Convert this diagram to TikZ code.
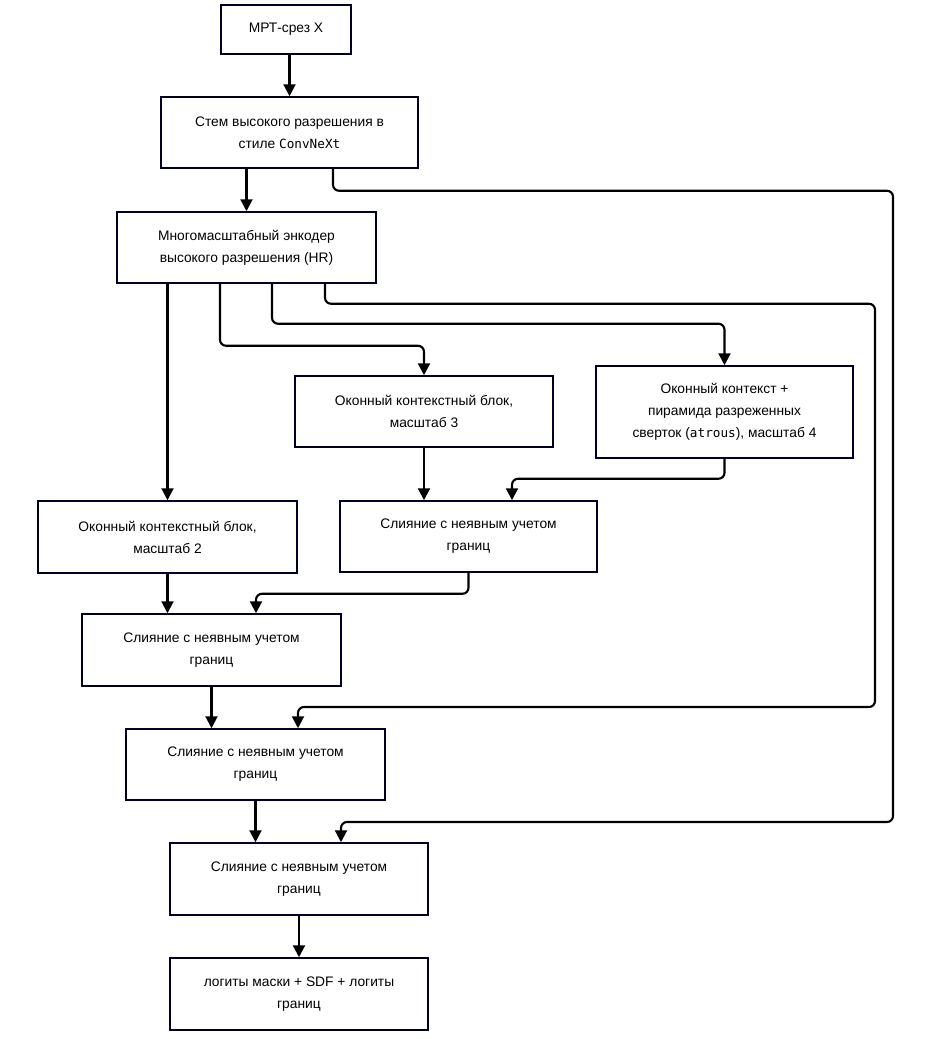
\documentclass[tikz,border=0pt]{standalone}
\usepackage{fontspec}
\setmainfont{Liberation Sans}
\setmonofont{DejaVu Sans Mono}[Scale=0.92]
\usepackage{tikz}
\usetikzlibrary{arrows.meta,positioning,calc}

\begin{document}
\begin{tikzpicture}[x=1pt,y=-1pt,
  block/.style={draw=black!85!blue,line width=1.5pt,fill=white,align=center,
    font=\fontsize{13.8}{22}\selectfont,inner sep=0pt},
  arr/.style={-{Triangle[length=12pt,width=12pt]},line width=2.1pt,rounded corners=6pt}]
  \useasboundingbox (0,0) rectangle (940,1039);

  % Blocks
  \node[block,minimum width=130pt,minimum height=49pt] (slice) at (286,29.5) {МРТ-срез X};
  \node[block,minimum width=257pt,minimum height=71pt] (stem) at (289.5,132.5)
    {Стем высокого разрешения в\\стиле \texttt{ConvNeXt}};
  \node[block,minimum width=259pt,minimum height=71pt] (enc) at (246.5,247.5)
    {Многомасштабный энкодер\\высокого разрешения (HR)};
  \node[block,minimum width=258pt,minimum height=71pt] (ctxthree) at (424,411.5)
    {Оконный контекстный блок,\\масштаб 3};
  \node[block,minimum width=257pt,minimum height=92pt] (ctxfour) at (724.5,412)
    {Оконный контекст +\\пирамида разреженных\\сверток (\texttt{atrous}), масштаб 4};
  \node[block,minimum width=259pt,minimum height=72pt] (ctxtwo) at (167.5,537)
    {Оконный контекстный блок,\\масштаб 2};
  \node[block,minimum width=257pt,minimum height=71pt] (fuseone) at (468.5,536.5)
    {Слияние с неявным учетом\\границ};
  \node[block,minimum width=259pt,minimum height=72pt] (fusetwo) at (211.5,650)
    {Слияние с неявным учетом\\границ};
  \node[block,minimum width=259pt,minimum height=71pt] (fusethree) at (255.5,764.5)
    {Слияние с неявным учетом\\границ};
  \node[block,minimum width=258pt,minimum height=72pt] (fusefour) at (299,879)
    {Слияние с неявным учетом\\границ};
  \node[block,minimum width=258pt,minimum height=72pt] (out) at (299,994)
    {логиты маски + SDF + логиты\\границ};

  % Main path
  \draw[arr] (stem.north |- slice.south) -- (stem.north);
  \draw[arr] (enc.north |- stem.south) -- (enc.north);
  \draw[arr] (ctxtwo.north |- enc.south) -- (ctxtwo.north);
  \draw[arr] ([xshift=-26.5pt]enc.south) -- ++(0,62) -| (ctxthree.north);
  \draw[arr] ([xshift=25.5pt]enc.south) -- ++(0,40) -| (ctxfour.north);
  \draw[arr] (ctxthree.south) -- (ctxthree.south |- fuseone.north);
  \draw[arr] (ctxfour.south) -- ++(0,20) -| ([xshift=43.5pt]fuseone.north);
  \draw[arr] (ctxtwo.south) -- (ctxtwo.south |- fusetwo.north);
  \draw[arr] (fuseone.south) -- ++(0,21) -| ([xshift=44.5pt]fusetwo.north);
  \draw[arr] (fusetwo.south) -- (fusetwo.south |- fusethree.north);
  \draw[arr] (fusethree.south) -- (fusethree.south |- fusefour.north);
  \draw[arr] (fusefour.south) -- (out.north);

  % Skip connections
  \draw[arr] ([xshift=78.5pt]enc.south) -- ++(0,20) -| (875,707) -| ([xshift=42.5pt]fusethree.north);
  \draw[arr] ([xshift=43.5pt]stem.south) -- ++(0,22) -| (893,822) -| ([xshift=42pt]fusefour.north);
\end{tikzpicture}
\end{document}
